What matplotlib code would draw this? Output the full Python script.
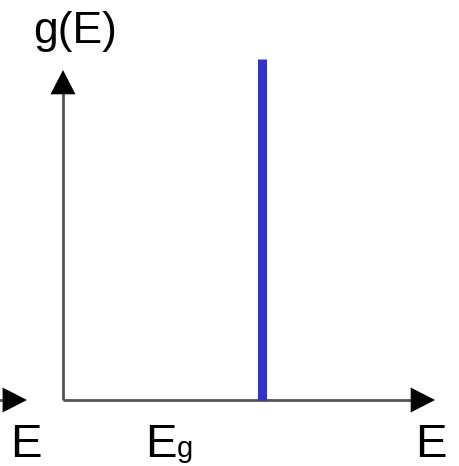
import matplotlib.pyplot as plt

plt.rcParams['font.family'] = ['Liberation Sans', 'DejaVu Sans']

# energy axis in units where the arrow tips sit at 1
e_gap = 0.535      # position of the gap edge
g_peak = 1.033     # height of the delta-like spike
axis_labels = ['g(E)', 'E', 'E', 'E']
gap_sub = 'g'

fig = plt.figure(figsize=(4.6, 4.66), dpi=100)
ax = fig.add_axes([0, 0, 1, 1])
ax.set_xlim(-63 / 372, (460 - 63) / 372)
ax.set_ylim(-(466 - 400) / 330, 400 / 330)
ax.axis('off')

axis_col = '#555555'
head = dict(arrowstyle='-|>,head_length=1.75,head_width=0.9',
            mutation_scale=10, color='black', lw=0, shrinkA=0, shrinkB=0)

# axes with arrow heads
ax.plot([0, 0.96], [0, 0], color=axis_col, lw=2, solid_capstyle='butt')
ax.plot([0, 0], [0, 0.96], color=axis_col, lw=2, solid_capstyle='butt')
ax.annotate('', xy=(1.0, 0), xytext=(0.9, 0), arrowprops=head)
ax.annotate('', xy=(0, 1.0), xytext=(0, 0.9), arrowprops=head)

# stub of the neighbouring energy axis on the left
ax.plot([-0.2, -0.15], [0, 0], color=axis_col, lw=2)
ax.annotate('', xy=(-0.097, 0), xytext=(-0.2, 0), arrowprops=head)

# density of states spike at the gap
ax.plot([e_gap, e_gap], [0, g_peak], color='#3333cc', lw=6.5,
        solid_capstyle='butt')

base = -0.173
ax.text(0.032, 1.082, axis_labels[0], fontsize=32, ha='center', va='baseline')
ax.text(-0.101, base, axis_labels[1], fontsize=34, ha='center', va='baseline')
ax.text(0.262, base, axis_labels[2], fontsize=34, ha='center', va='baseline')
ax.text(0.306, base, gap_sub, fontsize=21, ha='left', va='baseline')
ax.text(0.989, base, axis_labels[3], fontsize=34, ha='center', va='baseline')

fig.savefig('out.png', dpi=100)
